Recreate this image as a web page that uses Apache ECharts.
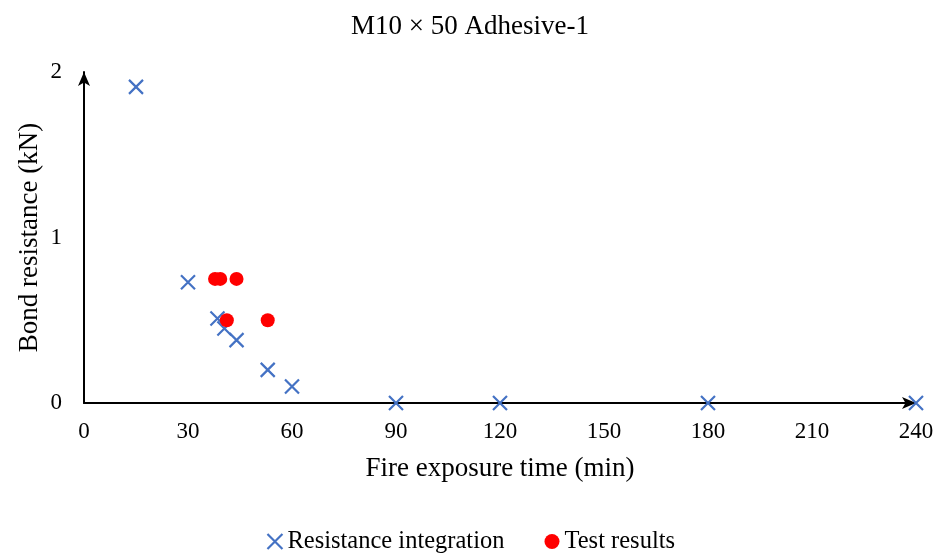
<!DOCTYPE html>
<html>
<head>
<meta charset="utf-8">
<script src="https://cdn.jsdelivr.net/npm/echarts@6/dist/echarts.min.js"></script>
<style>html,body{margin:0;padding:0;background:#fff;}#c{width:940px;height:557px;}</style>
</head>
<body>
<div id="c"></div>
<script>
var titleText = "M10 × 50 Adhesive-1";
var xTicks = [0, 30, 60, 90, 120, 150, 180, 210, 240];
var yTicks = [0, 1, 2];
var integrationX = [15, 30, 38.5, 40.5, 44, 53, 60, 90, 120, 180, 240];
var integrationY = [1.91, 0.73, 0.51, 0.45, 0.38, 0.20, 0.10, 0, 0, 0, 0];
var testX = [37.8, 39.3, 44, 41.2, 53];
var testY = [0.75, 0.75, 0.75, 0.50, 0.50];

var FONT = "Liberation Serif";
var chart = echarts.init(document.getElementById('c'));
var crossPath = 'path://M0,0L10,10M10,0L0,10';
chart.setOption({
  animation: false,
  backgroundColor: '#fff',
  title: { text: titleText, left: 'center', top: 8, textStyle: { fontFamily: FONT, fontSize: 27, fontWeight: 'normal', color: '#000' } },
  grid: { left: 84, right: 24, top: 72, bottom: 154 },
  legend: {
    bottom: -2, left: 'center', itemGap: 40, itemWidth: 15, itemHeight: 15,
    textStyle: { fontFamily: FONT, fontSize: 24.5, color: '#000' },
    data: [
      { name: 'Resistance integration', icon: crossPath, itemStyle: { color: 'none', borderColor: '#4472C4', borderWidth: 2.2, opacity: 1 } },
      { name: 'Test results', icon: 'circle', itemStyle: { color: '#FF0000', opacity: 1 } }
    ]
  },
  xAxis: {
    type: 'value', min: xTicks[0], max: xTicks[xTicks.length - 1], interval: 30,
    name: 'Fire exposure time (min)', nameLocation: 'middle', nameGap: 52, nameMoveOverlap: false,
    nameTextStyle: { fontFamily: FONT, fontSize: 27, color: '#000' },
    axisLine: { show: true, symbol: ['none', 'arrow'], symbolSize: [9, 14], lineStyle: { color: '#000', width: 2 } },
    axisTick: { show: false },
    splitLine: { show: false },
    axisLabel: { fontFamily: FONT, fontSize: 23, color: '#000', margin: 17 }
  },
  yAxis: {
    type: 'value', min: yTicks[0], max: yTicks[yTicks.length - 1], interval: 1,
    name: 'Bond resistance (kN)', nameLocation: 'middle', nameGap: 41, nameRotate: 90, nameMoveOverlap: false,
    nameTextStyle: { fontFamily: FONT, fontSize: 27, color: '#000' },
    axisLine: { show: true, symbol: ['none', 'arrow'], symbolSize: [9, 14], lineStyle: { color: '#000', width: 2 } },
    axisTick: { show: false },
    splitLine: { show: false },
    axisLabel: { fontFamily: FONT, fontSize: 23, color: '#000', margin: 22 }
  },
  series: [
    {
      name: 'Resistance integration', type: 'scatter', symbol: crossPath, symbolSize: 14,
      itemStyle: { color: 'none', borderColor: '#4472C4', borderWidth: 2.2, opacity: 1 },
      data: integrationX.map(function (x, i) { return [x, integrationY[i]]; }),
      z: 3
    },
    {
      name: 'Test results', type: 'scatter', symbol: 'circle', symbolSize: 14,
      itemStyle: { color: '#FF0000', opacity: 1 },
      data: testX.map(function (x, i) { return [x, testY[i]]; }),
      z: 4
    }
  ]
});
</script>
</body>
</html>
